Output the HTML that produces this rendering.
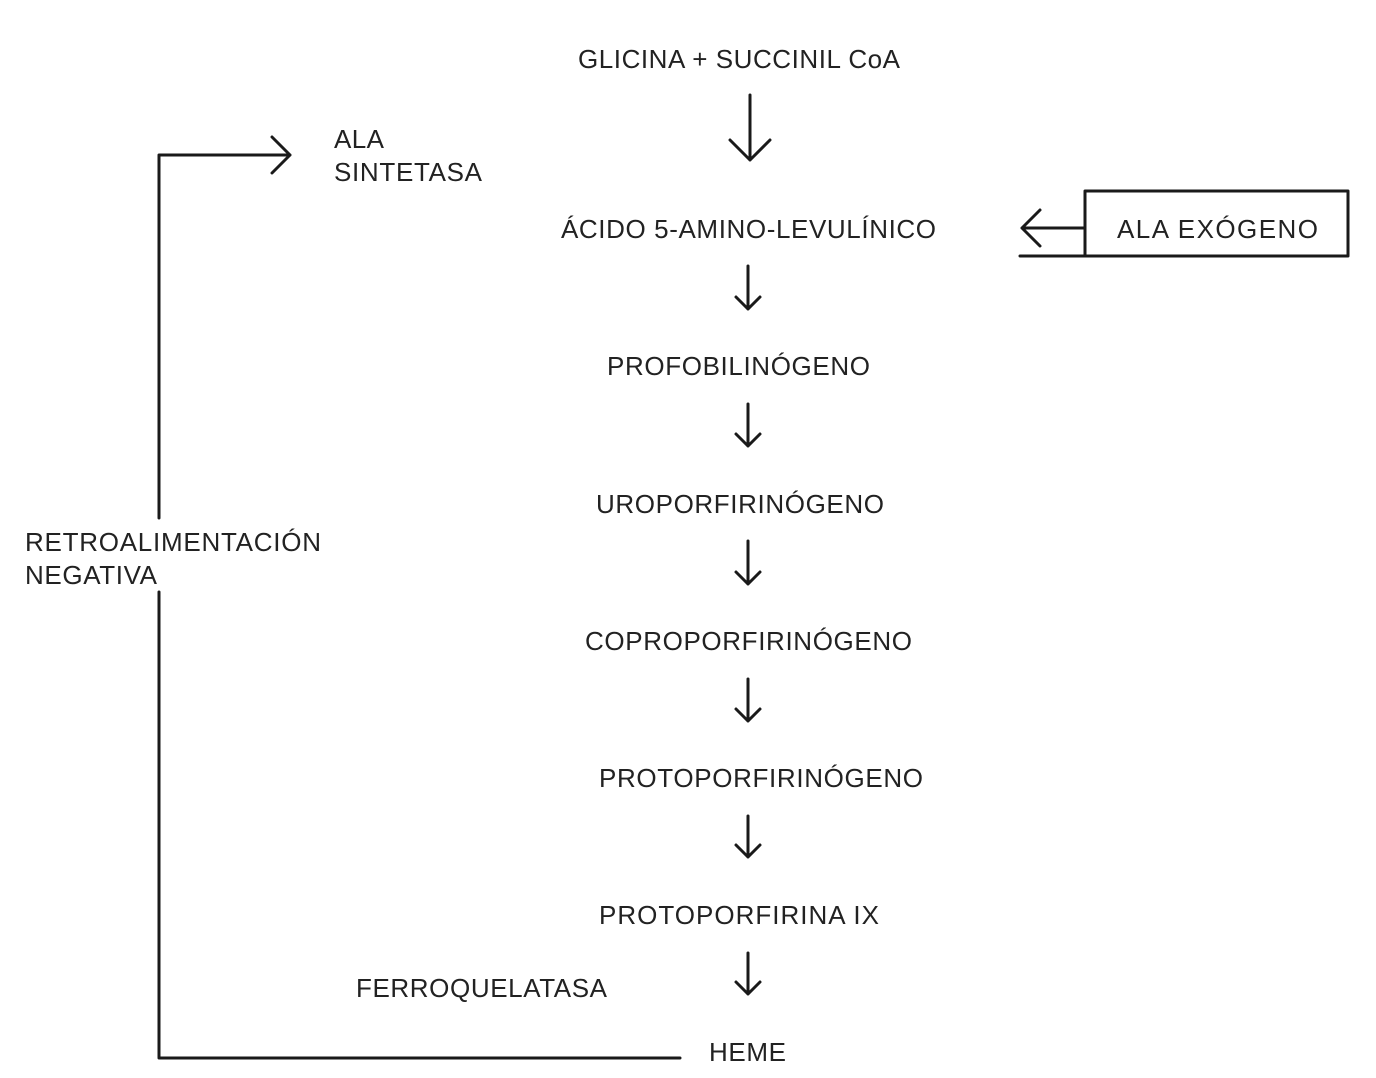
<!DOCTYPE html>
<html><head><meta charset="utf-8"><style>
html,body{margin:0;padding:0;background:#fff}
svg{display:block}
text{font-family:"Liberation Sans",sans-serif;font-size:26px;fill:#222}
</style></head><body>
<svg width="1376" height="1078" viewBox="0 0 1376 1078" xmlns="http://www.w3.org/2000/svg">
<g fill="none" stroke="#1a1a1a" stroke-width="3" stroke-linecap="round" stroke-linejoin="round">
<path d="M750 95 V160 M730 140 L750 160 L770 140"/>
<path d="M748 266 V309 M736 297 L748 309 L760 297"/>
<path d="M748 404 V446 M736 434 L748 446 L760 434"/>
<path d="M748 541 V584 M736 572 L748 584 L760 572"/>
<path d="M748 679 V721 M736 709 L748 721 L760 709"/>
<path d="M748 816 V857 M736 845 L748 857 L760 845"/>
<path d="M748 953 V994 M736 982 L748 994 L760 982"/>
<path d="M159 518 V155 H290 M272 137 L290 155 L272 173"/>
<path d="M159 592 V1058 H680"/>
<path d="M1085 191 H1348 V256 H1020 M1085 191 V256"/>
<path d="M1085 228 H1022 M1040 210 L1022 228 L1040 246"/>
</g>
<text x="578" y="68" textLength="322">GLICINA + SUCCINIL CoA</text>
<text x="334" y="148" textLength="50">ALA</text>
<text x="334" y="181" textLength="148">SINTETASA</text>
<text x="561" y="238" textLength="375">ÁCIDO 5-AMINO-LEVULÍNICO</text>
<text x="1117" y="238" textLength="201">ALA EXÓGENO</text>
<text x="607" y="375" textLength="263">PROFOBILINÓGENO</text>
<text x="596" y="513" textLength="288">UROPORFIRINÓGENO</text>
<text x="585" y="650" textLength="327">COPROPORFIRINÓGENO</text>
<text x="599" y="787" textLength="324">PROTOPORFIRINÓGENO</text>
<text x="599" y="924" textLength="280">PROTOPORFIRINA IX</text>
<text x="356" y="997" textLength="251">FERROQUELATASA</text>
<text x="709" y="1061" textLength="77">HEME</text>
<text x="25" y="551" textLength="296">RETROALIMENTACIÓN</text>
<text x="25" y="584" textLength="132">NEGATIVA</text>
</svg>
</body></html>
